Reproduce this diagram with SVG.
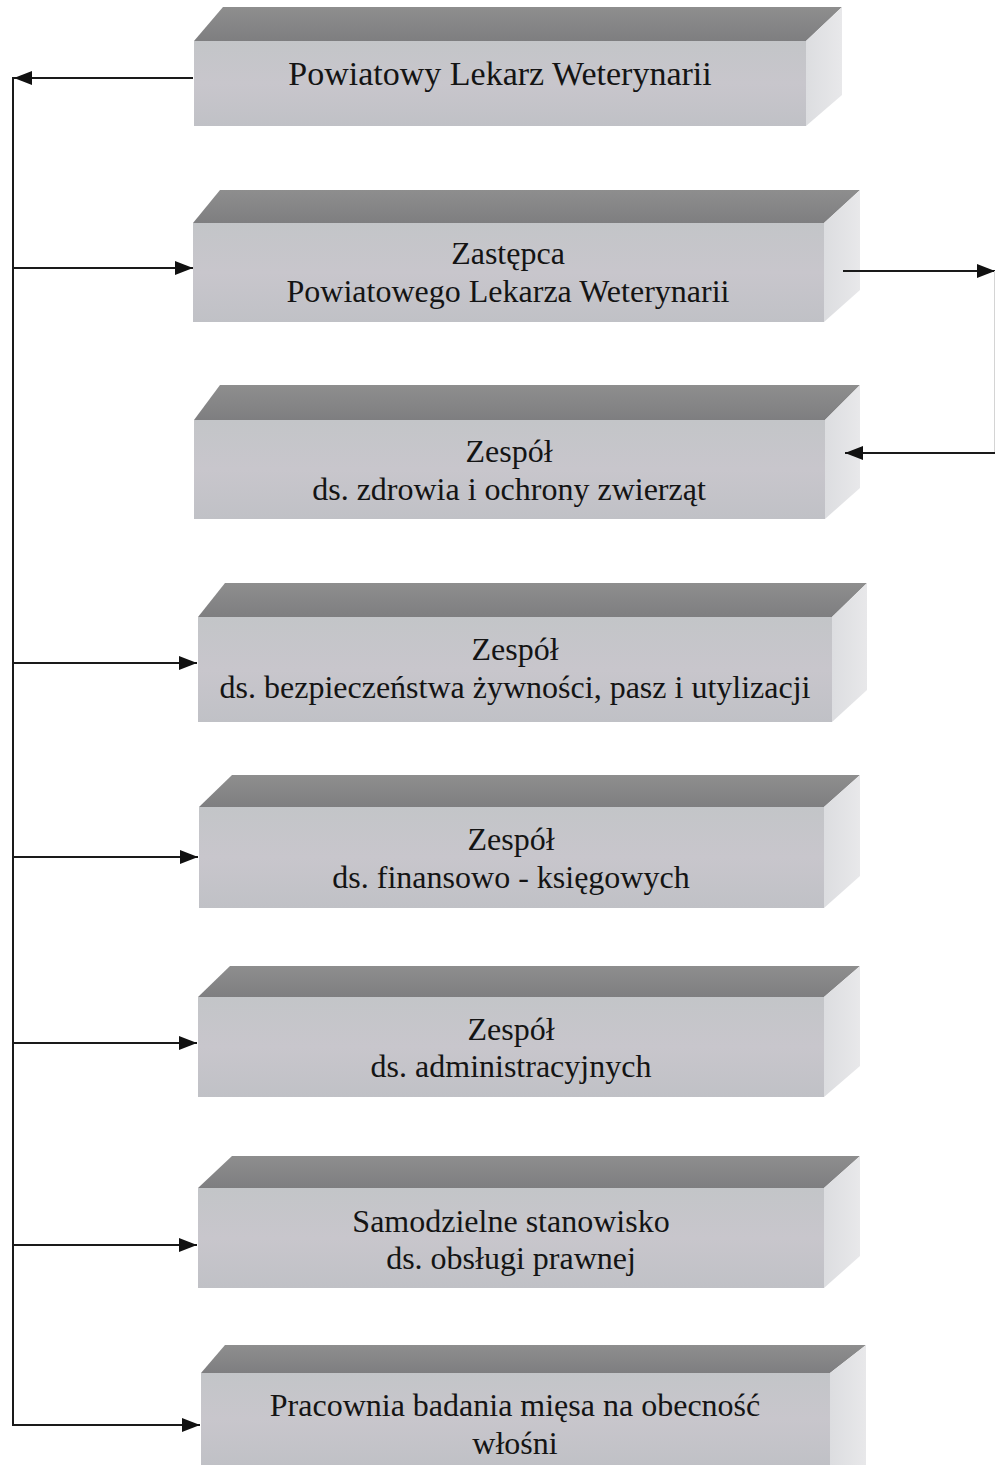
<svg xmlns="http://www.w3.org/2000/svg" width="996" height="1465" viewBox="0 0 996 1465">
<style>
.front{fill:url(#gFront)}
.top{fill:url(#gTop)}
.side{fill:url(#gSide)}
.lbl{font-family:"Liberation Serif","Times New Roman",serif;font-size:32px;fill:#141414;text-anchor:middle}
.big{font-size:34px}
.con{stroke:#1a1a1a;stroke-width:2;fill:none}
</style>
<defs>
<linearGradient id="gFront" x1="0" y1="0" x2="0" y2="1">
<stop offset="0" stop-color="#c3c5c8"/>
<stop offset="0.5" stop-color="#c8c6cc"/>
<stop offset="1" stop-color="#c0c1c6"/>
</linearGradient>
<linearGradient id="gTop" x1="0" y1="0" x2="0" y2="1">
<stop offset="0" stop-color="#8e8e8e"/>
<stop offset="1" stop-color="#7e7e80"/>
</linearGradient>
<linearGradient id="gSide" x1="0" y1="0" x2="1" y2="0">
<stop offset="0" stop-color="#dcdde0"/>
<stop offset="1" stop-color="#e8e8ea"/>
</linearGradient>
<marker id="ah" viewBox="0 0 18 14" refX="18" refY="7" markerWidth="18" markerHeight="14" markerUnits="userSpaceOnUse" orient="auto">
<path d="M0,0 L18,7 L0,14 Z" fill="#111"/>
</marker>
</defs>

<g id="n1">
<polygon class="top" points="194,41 223,7 842,7 806,41"/>
<polygon class="side" points="806,41 842,7 842,95 806,126"/>
<rect class="front" x="194" y="41" width="612" height="85"/>
<text class="lbl big" x="500" y="85">Powiatowy Lekarz Weterynarii</text>
</g>

<g id="n2">
<polygon class="top" points="193,223 220,190 860,190 824,223"/>
<polygon class="side" points="824,223 860,190 860,290 824,322"/>
<rect class="front" x="193" y="223" width="631" height="99"/>
<text class="lbl" x="508" y="264">Zastępca</text>
<text class="lbl" x="508" y="302">Powiatowego Lekarza Weterynarii</text>
</g>

<g id="n3">
<polygon class="top" points="194,420 220,385 860,385 825,420"/>
<polygon class="side" points="825,420 860,385 860,488 825,519"/>
<rect class="front" x="194" y="420" width="631" height="99"/>
<text class="lbl" x="509" y="462">Zespół</text>
<text class="lbl" x="509" y="500">ds. zdrowia i ochrony zwierząt</text>
</g>

<g id="n4">
<polygon class="top" points="198,617 225,583 867,583 832,617"/>
<polygon class="side" points="832,617 867,583 867,690 832,722"/>
<rect class="front" x="198" y="617" width="634" height="105"/>
<text class="lbl" x="515" y="660">Zespół</text>
<text class="lbl" x="515" y="698">ds. bezpieczeństwa żywności, pasz i utylizacji</text>
</g>

<g id="n5">
<polygon class="top" points="199,807 232,775 860,775 824,807"/>
<polygon class="side" points="824,807 860,775 860,876 824,908"/>
<rect class="front" x="199" y="807" width="625" height="101"/>
<text class="lbl" x="511" y="850">Zespół</text>
<text class="lbl" x="511" y="888">ds. finansowo - księgowych</text>
</g>

<g id="n6">
<polygon class="top" points="198,997 230,966 860,966 824,997"/>
<polygon class="side" points="824,997 860,966 860,1066 824,1097"/>
<rect class="front" x="198" y="997" width="626" height="100"/>
<text class="lbl" x="511" y="1040">Zespół</text>
<text class="lbl" x="511" y="1077">ds. administracyjnych</text>
</g>

<g id="n7">
<polygon class="top" points="198,1188 232,1156 860,1156 824,1188"/>
<polygon class="side" points="824,1188 860,1156 860,1256 824,1288"/>
<rect class="front" x="198" y="1188" width="626" height="100"/>
<text class="lbl" x="511" y="1232">Samodzielne stanowisko</text>
<text class="lbl" x="511" y="1269">ds. obsługi prawnej</text>
</g>

<g id="n8">
<polygon class="top" points="201,1373 225,1345 866,1345 830,1373"/>
<polygon class="side" points="830,1373 866,1345 866,1465 830,1465"/>
<rect class="front" x="201" y="1373" width="629" height="92"/>
<text class="lbl" x="515" y="1416">Pracownia badania mięsa na obecność</text>
<text class="lbl" x="515" y="1454">włośni</text>
</g>

<g id="connectors">
<line class="con" x1="13" y1="77" x2="13" y2="1426"/>
<line class="con" x1="193" y1="78" x2="14" y2="78" marker-end="url(#ah)"/>
<line class="con" x1="13" y1="268" x2="193" y2="268" marker-end="url(#ah)"/>
<line class="con" x1="13" y1="663" x2="197" y2="663" marker-end="url(#ah)"/>
<line class="con" x1="13" y1="857" x2="198" y2="857" marker-end="url(#ah)"/>
<line class="con" x1="13" y1="1043" x2="197" y2="1043" marker-end="url(#ah)"/>
<line class="con" x1="13" y1="1245" x2="197" y2="1245" marker-end="url(#ah)"/>
<line class="con" x1="13" y1="1425" x2="200" y2="1425" marker-end="url(#ah)"/>
<line class="con" x1="843" y1="271" x2="995" y2="271" marker-end="url(#ah)"/>
<line x1="994.5" y1="271" x2="994.5" y2="453" stroke="#d4d4d4" stroke-width="1"/>
<line class="con" x1="995" y1="453" x2="845" y2="453" marker-end="url(#ah)"/>
</g>
</svg>
